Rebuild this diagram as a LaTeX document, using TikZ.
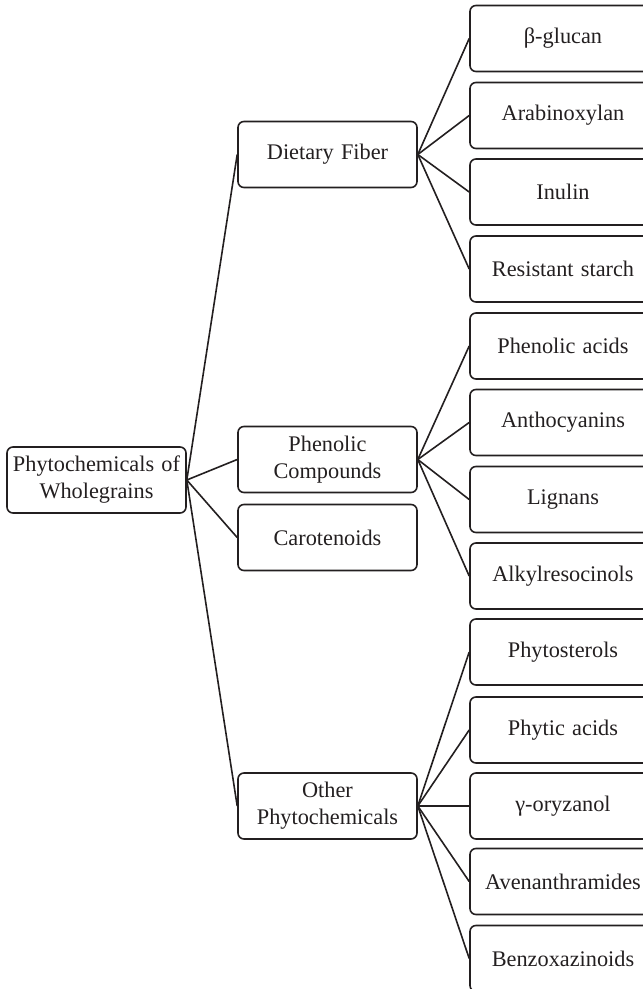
\documentclass[tikz,border=0pt]{standalone}
\usepackage{fontspec}
\setmainfont{Liberation Serif}[WordSpace={1.3}]
\definecolor{ink}{HTML}{231F20}
\begin{document}
\begin{tikzpicture}[x=1pt,y=-1pt,
  box/.style={draw=ink, line width=1.6pt, rounded corners=6pt, minimum width=179pt,
    minimum height=66pt, inner sep=0pt, align=center,
    font=\fontsize{22.3}{27}\selectfont, text=ink},
  leaf/.style={box, minimum width=186pt},
  link/.style={draw=ink, line width=1.6pt}]
\useasboundingbox (0,0) rectangle (643,989);
\clip (0,0) rectangle (643,989);
% root
\node[box] (root) at (96.5,480) {Phytochemicals of\\Wholegrains};
% middle
\node[box] (fiber) at (327.5,154.5) {Dietary Fiber};
\node[box] (phen) at (327.5,459.5) {Phenolic\\Compounds};
\node[box] (caro) at (327.5,537.5) {Carotenoids};
\node[box] (other) at (327.5,806) {Other\\Phytochemicals};
% leaves
\node[leaf] (l1) at (563,38.5) {β-glucan};
\node[leaf] (l2) at (563,115.5) {Arabinoxylan};
\node[leaf] (l3) at (563,192) {Inulin};
\node[leaf] (l4) at (563,269) {Resistant starch};
\node[leaf] (l5) at (563,346) {Phenolic acids};
\node[leaf] (l6) at (563,422.5) {Anthocyanins};
\node[leaf] (l7) at (563,499.5) {Lignans};
\node[leaf] (l8) at (563,576) {Alkylresocinols};
\node[leaf] (l9) at (563,652) {Phytosterols};
\node[leaf] (l10) at (563,730) {Phytic acids};
\node[leaf] (l11) at (563,806) {γ-oryzanol};
\node[leaf] (l12) at (563,881.5) {Avenanthramides};
\node[leaf] (l13) at (563,958.5) {Benzoxazinoids};
% connectors
\foreach \m in {fiber,phen,caro,other}
  \draw[link] (root.east) -- (\m.west);
\foreach \l in {l1,l2,l3,l4}
  \draw[link] (fiber.east) -- (\l.west);
\foreach \l in {l5,l6,l7,l8}
  \draw[link] (phen.east) -- (\l.west);
\foreach \l in {l9,l10,l11,l12,l13}
  \draw[link] (other.east) -- (\l.west);
\end{tikzpicture}
\end{document}
